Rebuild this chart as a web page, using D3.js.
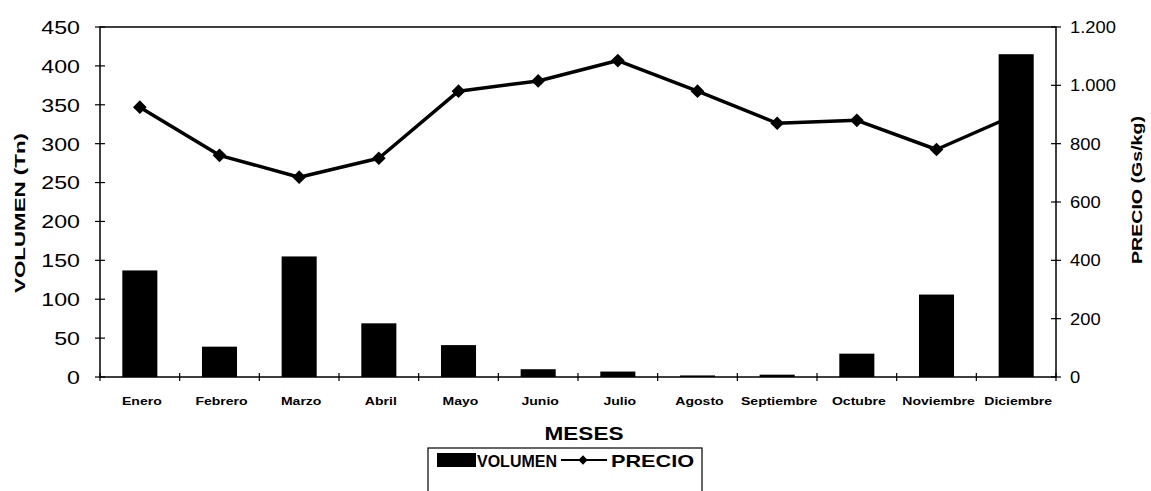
<!DOCTYPE html>
<html>
<head>
<meta charset="utf-8">
<script src="https://cdn.jsdelivr.net/npm/d3@7"></script>
<style>
  html, body { margin: 0; padding: 0; background: #fff; }
  svg { display: block; font-family: "Liberation Sans", Arial, sans-serif; }
</style>
</head>
<body>
<div id="chart"></div>
<script>
const meses = ["Enero", "Febrero", "Marzo", "Abril", "Mayo", "Junio", "Julio",
               "Agosto", "Septiembre", "Octubre", "Noviembre", "Diciembre"];
const volumen = [137, 39, 155, 69, 41, 10, 7, 2, 3, 30, 106, 415];
const precio = [925, 760, 685, 750, 980, 1015, 1085, 980, 870, 880, 780, 900];
const leftTicks = [0, 50, 100, 150, 200, 250, 300, 350, 400, 450];
const rightTicks = [0, 200, 400, 600, 800, 1000, 1200];

const svgWidth = 1151, svgHeight = 491;
const svg = d3.select("#chart").append("svg")
    .attr("width", svgWidth)
    .attr("height", svgHeight);

const margin = {top: 27, right: 95, bottom: 114, left: 100},
      width = svgWidth - margin.left - margin.right,
      height = svgHeight - margin.top - margin.bottom;

const g = svg.append("g")
    .attr("transform", "translate(" + margin.left + "," + margin.top + ")");

const fmt = d3.formatLocale({decimal: ",", thousands: ".", grouping: [3], currency: ["", ""]}).format(",d");

// scales
const x = d3.scaleBand()
    .domain(meses)
    .range([0, width])
    .paddingInner(0.56)
    .paddingOuter(0.28);
const step = x.step();

const yL = d3.scaleLinear().domain([0, 450]).range([height, 0]);
const yR = d3.scaleLinear().domain([0, 1200]).range([height, 0]);

// frame
g.append("rect")
    .attr("x", 0).attr("y", 0)
    .attr("width", width).attr("height", height)
    .attr("fill", "none")
    .attr("stroke", "#000")
    .attr("stroke-width", 1.5);

// left axis ticks + labels
leftTicks.forEach(v => {
    g.append("line")
        .attr("x1", -5).attr("x2", 5)
        .attr("y1", yL(v)).attr("y2", yL(v))
        .attr("stroke", "#000").attr("stroke-width", 1.2);
    g.append("text")
        .attr("transform", "translate(-20," + yL(v) + ") scale(1.22,1)")
        .attr("text-anchor", "end")
        .attr("dy", "0.36em")
        .attr("font-size", 19)
        .text(v);
});

// right axis ticks + labels
rightTicks.forEach(v => {
    g.append("line")
        .attr("x1", width - 5).attr("x2", width + 5)
        .attr("y1", yR(v)).attr("y2", yR(v))
        .attr("stroke", "#000").attr("stroke-width", 1.2);
    g.append("text")
        .attr("transform", "translate(" + (width + 14) + "," + yR(v) + ") scale(1.08,1)")
        .attr("text-anchor", "start")
        .attr("dy", "0.36em")
        .attr("font-size", 17)
        .text(fmt(v));
});

// x ticks at band boundaries
d3.range(meses.length + 1).forEach(i => {
    g.append("line")
        .attr("x1", i * step).attr("x2", i * step)
        .attr("y1", height - 4).attr("y2", height + 4)
        .attr("stroke", "#000").attr("stroke-width", 1.2);
});

// x labels
g.selectAll(".xlabel")
    .data(meses)
    .join("text")
        .attr("class", "xlabel")
        .attr("transform", d => "translate(" + (x(d) + x.bandwidth() / 2 + 2) + "," + (height + 28) + ") scale(1.22,1)")
        .attr("text-anchor", "middle")
        .attr("font-size", 11.5)
        .attr("font-weight", "bold")
        .text(d => d);

// price line
const line = d3.line()
    .x((d, i) => x(meses[i]) + x.bandwidth() / 2)
    .y(d => yR(d));

g.append("path")
    .datum(precio)
    .attr("fill", "none")
    .attr("stroke", "#000")
    .attr("stroke-width", 3.5)
    .attr("stroke-linejoin", "round")
    .attr("d", line);

g.selectAll(".marker")
    .data(precio)
    .join("path")
        .attr("class", "marker")
        .attr("transform", (d, i) => "translate(" + (x(meses[i]) + x.bandwidth() / 2) + "," + yR(d) + ")")
        .attr("d", d3.symbol().type(d3.symbolDiamond2).size(120))
        .attr("fill", "#000");

// volume bars (drawn over the line, as in the original)
g.selectAll(".bar")
    .data(volumen)
    .join("rect")
        .attr("class", "bar")
        .attr("x", (d, i) => x(meses[i]))
        .attr("y", d => yL(d))
        .attr("width", x.bandwidth())
        .attr("height", d => height - yL(d))
        .attr("fill", "#000");

// axis titles
svg.append("text")
    .attr("transform", "translate(25,213) rotate(-90)")
    .attr("text-anchor", "middle")
    .attr("font-size", 15)
    .attr("font-weight", "bold")
    .attr("textLength", 160)
    .attr("lengthAdjust", "spacingAndGlyphs")
    .text("VOLUMEN (Tn)");

svg.append("text")
    .attr("transform", "translate(1142,190) rotate(-90)")
    .attr("text-anchor", "middle")
    .attr("font-size", 15)
    .attr("font-weight", "bold")
    .attr("textLength", 148)
    .attr("lengthAdjust", "spacingAndGlyphs")
    .text("PRECIO (Gs/kg)");

svg.append("text")
    .attr("x", 584).attr("y", 440)
    .attr("text-anchor", "middle")
    .attr("font-size", 18)
    .attr("font-weight", "bold")
    .attr("textLength", 79)
    .attr("lengthAdjust", "spacingAndGlyphs")
    .text("MESES");

// legend
const lg = svg.append("g").attr("transform", "translate(428,448)");
lg.append("rect")
    .attr("x", 0).attr("y", 0)
    .attr("width", 274).attr("height", 60)
    .attr("fill", "none")
    .attr("stroke", "#000")
    .attr("stroke-width", 1.2);
lg.append("rect")
    .attr("x", 9).attr("y", 5)
    .attr("width", 39).attr("height", 14)
    .attr("fill", "#000");
lg.append("text")
    .attr("x", 49).attr("y", 19)
    .attr("font-size", 16.5)
    .attr("font-weight", "bold")
    .attr("textLength", 80)
    .attr("lengthAdjust", "spacingAndGlyphs")
    .text("VOLUMEN");
lg.append("line")
    .attr("x1", 133).attr("x2", 179)
    .attr("y1", 12).attr("y2", 12)
    .attr("stroke", "#000").attr("stroke-width", 2);
lg.append("path")
    .attr("transform", "translate(155,12)")
    .attr("d", d3.symbol().type(d3.symbolDiamond2).size(55))
    .attr("fill", "#000");
lg.append("text")
    .attr("x", 183).attr("y", 19)
    .attr("font-size", 17)
    .attr("font-weight", "bold")
    .attr("textLength", 83)
    .attr("lengthAdjust", "spacingAndGlyphs")
    .text("PRECIO");
</script>
</body>
</html>
